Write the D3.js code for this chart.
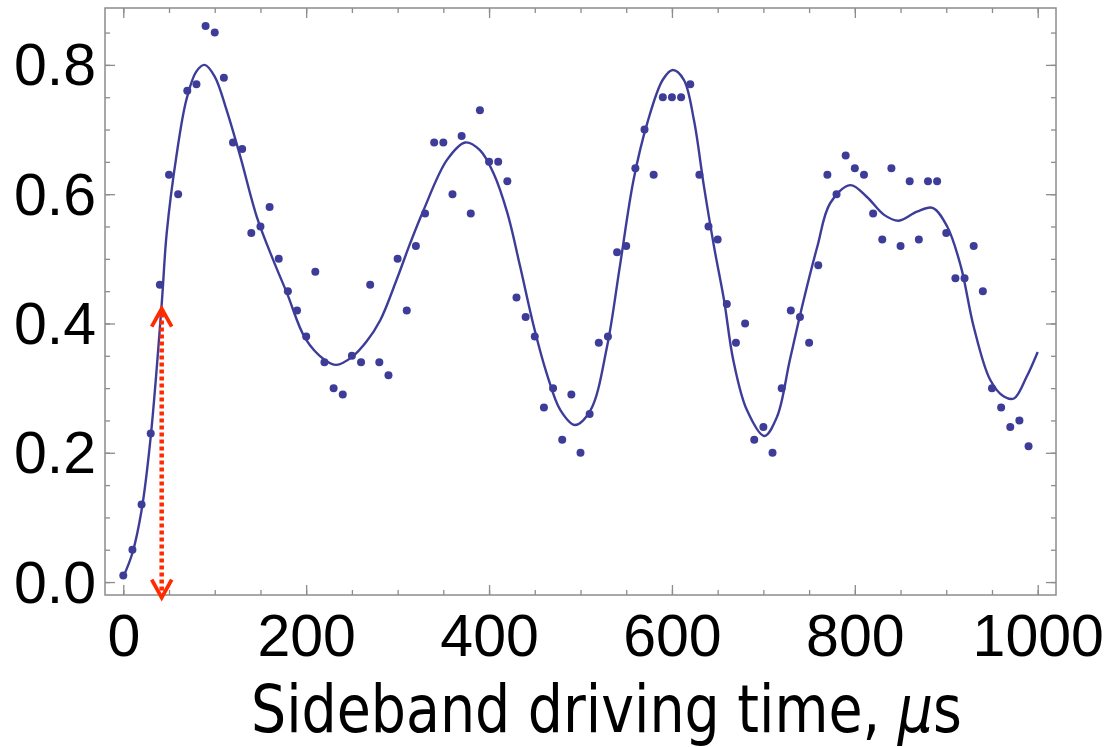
<!DOCTYPE html>
<html>
<head>
<meta charset="utf-8">
<script src="https://cdn.jsdelivr.net/npm/d3@7"></script>
<style>
  html, body { margin: 0; padding: 0; background: #fff; }
  svg { display: block; }
</style>
</head>
<body>
<svg id="chart" width="1105" height="747"></svg>
<script>
// ---- data ----
const timeUs = [0,10,20,30,40,50,60,70,80,90,100,110,120,130,140,150,160,170,180,190,
  200,210,220,230,240,250,260,270,280,290,300,310,320,330,340,350,360,370,380,390,
  400,410,420,430,440,450,460,470,480,490,500,510,520,530,540,550,560,570,580,590,
  600,610,620,630,640,650,660,670,680,690,700,710,720,730,740,750,760,770,780,790,
  800,810,820,830,840,850,860,870,880,890,900,910,920,930,940,950,960,970,980,990];
const population = [0.01,0.05,0.12,0.23,0.46,0.63,0.60,0.76,0.77,0.86,0.85,0.78,0.68,0.67,0.54,0.55,0.58,0.50,0.45,0.42,
  0.38,0.48,0.34,0.30,0.29,0.35,0.34,0.46,0.34,0.32,0.50,0.42,0.52,0.57,0.68,0.68,0.60,0.69,0.57,0.73,
  0.65,0.65,0.62,0.44,0.41,0.38,0.27,0.30,0.22,0.29,0.20,0.26,0.37,0.38,0.51,0.52,0.64,0.70,0.63,0.75,
  0.75,0.75,0.77,0.63,0.55,0.53,0.43,0.37,0.40,0.22,0.24,0.20,0.30,0.42,0.41,0.37,0.49,0.63,0.60,0.66,
  0.64,0.63,0.57,0.53,0.64,0.52,0.62,0.53,0.62,0.62,0.54,0.47,0.47,0.52,0.45,0.30,0.27,0.24,0.25,0.21];

// fitted curve
const fitTime = [0,10,20,30,42,47.5,58,69,80,89,100,113,128,146,164,179,199,220,233,250,266,281,299,314,328,354,374,390,405,420,434,449,463,478,494,511,529,543,558,573,590,601,613,624,635,646,657,667,682,701,715,729,744,759,773,795,813,832,848,868,885,901,916,930,948,963,974,988,1000];
const fitValue = [0.008,0.045,0.111,0.225,0.43,0.54,0.658,0.746,0.79,0.80,0.782,0.73,0.658,0.565,0.498,0.447,0.377,0.344,0.336,0.348,0.372,0.405,0.468,0.525,0.574,0.653,0.680,0.668,0.632,0.571,0.488,0.395,0.323,0.266,0.243,0.266,0.364,0.488,0.622,0.71,0.777,0.792,0.777,0.715,0.612,0.519,0.436,0.344,0.266,0.226,0.256,0.344,0.436,0.519,0.586,0.614,0.596,0.568,0.559,0.573,0.579,0.55,0.488,0.395,0.313,0.287,0.284,0.318,0.356];

// annotation arrow (time, from-value, to-value)
const arrowTime = [42];
const arrowTop = [0.423];
const arrowBottom = [-0.024];

// ticks
const xMajorTicks = [0,200,400,600,800,1000];
const xMinorTicks = [0,50,100,150,200,250,300,350,400,450,500,550,600,650,700,750,800,850,900,950,1000];
const yMajorTicks = [0.0,0.2,0.4,0.6,0.8];
const yMinorTicks = [0,0.05,0.1,0.15,0.2,0.25,0.3,0.35,0.4,0.45,0.5,0.55,0.6,0.65,0.7,0.75,0.8,0.85];
const xTitleParts = ["Sideband driving time, ", "\u03bc", "s"];

// ---- layout ----
const svg = d3.select("#chart");
const pLeft = 105, pRight = 1056, pTop = 8, pBottom = 595;
const x = d3.scaleLinear().domain([-20, 1020]).range([pLeft, pRight]);
const y = d3.scaleLinear().domain([-0.02, 0.888]).range([pBottom, pTop]);

const frameColor = "#8c8c8c";
const markColor = "#3d3d99";
const red = "#ff2a00";
const labelFont = "'Liberation Sans', Arial, sans-serif";

function styleAxis(g) {
  g.select(".domain").remove();
  g.selectAll(".tick line").attr("stroke", frameColor).attr("stroke-width", 1.3);
  g.selectAll("text").attr("fill", "#000").attr("font-family", labelFont).attr("font-size", 59);
}
svg.append("g").attr("transform", `translate(0,${pBottom})`)
  .call(d3.axisBottom(x).tickValues(xMinorTicks).tickSize(-5).tickFormat("")).call(styleAxis);
svg.append("g").attr("transform", `translate(0,${pBottom})`)
  .call(d3.axisBottom(x).tickValues(xMajorTicks).tickSize(-10).tickPadding(19).tickFormat(d3.format("d"))).call(styleAxis);
svg.append("g").attr("transform", `translate(0,${pTop})`)
  .call(d3.axisTop(x).tickValues(xMinorTicks).tickSize(-5).tickFormat("")).call(styleAxis);
svg.append("g").attr("transform", `translate(0,${pTop})`)
  .call(d3.axisTop(x).tickValues(xMajorTicks).tickSize(-10).tickFormat("")).call(styleAxis);

svg.append("g").attr("transform", `translate(${pLeft},0)`)
  .call(d3.axisLeft(y).tickValues(yMinorTicks).tickSize(-5).tickFormat("")).call(styleAxis);
const yAx = svg.append("g").attr("transform", `translate(${pLeft},0)`)
  .call(d3.axisLeft(y).tickValues(yMajorTicks).tickSize(-10).tickPadding(9).tickFormat(d3.format(".1f"))).call(styleAxis);
yAx.selectAll("text").attr("dy", "0.34em");
svg.append("g").attr("transform", `translate(${pRight},0)`)
  .call(d3.axisRight(y).tickValues(yMinorTicks).tickSize(-5).tickFormat("")).call(styleAxis);
svg.append("g").attr("transform", `translate(${pRight},0)`)
  .call(d3.axisRight(y).tickValues(yMajorTicks).tickSize(-10).tickFormat("")).call(styleAxis);

// frame
svg.append("rect").attr("x", pLeft).attr("y", pTop)
  .attr("width", pRight - pLeft).attr("height", pBottom - pTop)
  .attr("fill", "none").attr("stroke", frameColor).attr("stroke-width", 1.5);

// fit curve
const fitData = fitTime.map((t, i) => [t, fitValue[i]]);
svg.append("path").datum(fitData)
  .attr("fill", "none").attr("stroke", markColor).attr("stroke-width", 2.4)
  .attr("d", d3.line().x(d => x(d[0])).y(d => y(d[1])).curve(d3.curveCatmullRom.alpha(0.5)));

// data points
svg.append("g").selectAll("circle").data(timeUs.map((t, i) => [t, population[i]]))
  .join("circle").attr("cx", d => x(d[0])).attr("cy", d => y(d[1])).attr("r", 4)
  .attr("fill", markColor);

// red dotted double arrow
arrowTime.forEach((t, i) => {
  const ax = x(t), y1 = y(arrowTop[i]), y0 = y(arrowBottom[i]);
  const g = svg.append("g").attr("stroke", red).attr("fill", "none");
  g.append("line").attr("x1", ax).attr("x2", ax).attr("y1", y1 + 5).attr("y2", y0 - 5)
    .attr("stroke-width", 4.5).attr("stroke-dasharray", "4,3");
  g.append("path").attr("stroke-width", 3.8).attr("stroke-linejoin", "miter")
    .attr("d", `M${ax - 10},${y1 + 18}L${ax},${y1}L${ax + 10},${y1 + 18}`);
  g.append("path").attr("stroke-width", 3.8).attr("stroke-linejoin", "miter")
    .attr("d", `M${ax - 10},${y0 - 18}L${ax},${y0}L${ax + 10},${y0 - 18}`);
});

// axis title: one text, horizontally condensed to the reference width
const titleG = svg.append("g");
const title = titleG.append("text").attr("x", 0).attr("y", 0)
  .attr("font-family", "Tahoma, 'DejaVu Sans', sans-serif").attr("font-size", 65)
  .attr("fill", "#000");
title.append("tspan").text(xTitleParts[0]);
title.append("tspan").attr("font-style", "italic").text(xTitleParts[1]);
title.append("tspan").text(xTitleParts[2]);
const natW = title.node().getComputedTextLength();
const sx = 711 / natW;
titleG.attr("transform", `translate(251,732) scale(${sx},1)`);
</script>
</body>
</html>
